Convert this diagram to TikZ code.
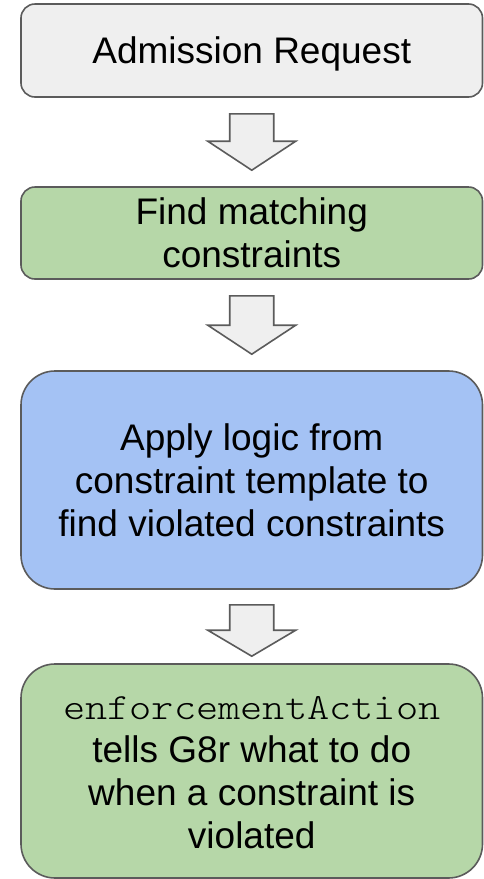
\documentclass[tikz,border=0pt]{standalone}
\usepackage{fontspec}
\setmainfont{Liberation Sans}
% thin slab-serif typewriter face for the code word, widened to a 0.6em pitch
\newfontfamily\codefont{Latin Modern Mono Light}[FakeStretch=1.143]
\usetikzlibrary{calc}

\definecolor{edgegray}{HTML}{5B5B5B}
\definecolor{boxgray}{HTML}{EFEFEF}
\definecolor{boxgreen}{HTML}{B6D7A8}
\definecolor{boxblue}{HTML}{A4C2F4}

% line strut: keeps every line box centred on the capital letters
\newcommand\ls{\rule[-0.184em]{0pt}{1.084em}}

% block arrow pointing down from #1 (top of shaft) to #2 (tip), head length #3
\newcommand\flowarrow[3]{%
  \draw[blockarrow] let \p1=(#1), \p2=(#2) in
    (\x1-22pt,\y1) -- (\x1+22pt,\y1) -- (\x1+22pt,\y2+#3) -- (\x1+44pt,\y2+#3)
    -- (\x2,\y2) -- (\x1-44pt,\y2+#3) -- (\x1-22pt,\y2+#3) -- cycle;}

\tikzset{
  flowbox/.style={draw=edgegray, line width=1.6pt, inner sep=0pt,
    minimum width=461.5pt, align=center, text=black,
    font=\fontsize{37}{43}\selectfont},
  blockarrow/.style={draw=edgegray, fill=boxgray, line width=1.6pt, line join=miter}
}

\begin{document}
\begin{tikzpicture}[x=1pt,y=-1pt]
\useasboundingbox (0,0) rectangle (484,879);

\node[flowbox, fill=boxgray, rounded corners=14pt, minimum height=93pt]
  (req) at (251.75,50.5) {\ls Admission Request};
\node[flowbox, fill=boxgreen, rounded corners=14pt, minimum height=92pt]
  (match) at (251.75,233) {\ls Find matching\\\ls constraints};
\node[flowbox, fill=boxblue, rounded corners=34pt, minimum height=218pt]
  (apply) at (251.75,480) {\ls Apply logic from\\\ls constraint template to\\\ls find violated constraints};
\node[flowbox, fill=boxgreen, rounded corners=34pt, minimum height=214pt]
  (act) at (251.75,771) {\ls{\codefont enforcementAction}\\\ls tells G8r what to do\\\ls when a constraint is\\\ls violated};

\coordinate (a1t) at ($(req.south)+(0,16)$);
\coordinate (a1b) at ($(match.north)-(0,16)$);
\coordinate (a2t) at ($(match.south)+(0,16)$);
\coordinate (a2b) at ($(apply.north)-(0,16)$);
\coordinate (a3t) at ($(apply.south)+(0,15)$);
\coordinate (a3b) at ($(act.north)-(0,7)$);

\flowarrow{a1t}{a1b}{29pt}
\flowarrow{a2t}{a2b}{29pt}
\flowarrow{a3t}{a3b}{26pt}
\end{tikzpicture}
\end{document}
